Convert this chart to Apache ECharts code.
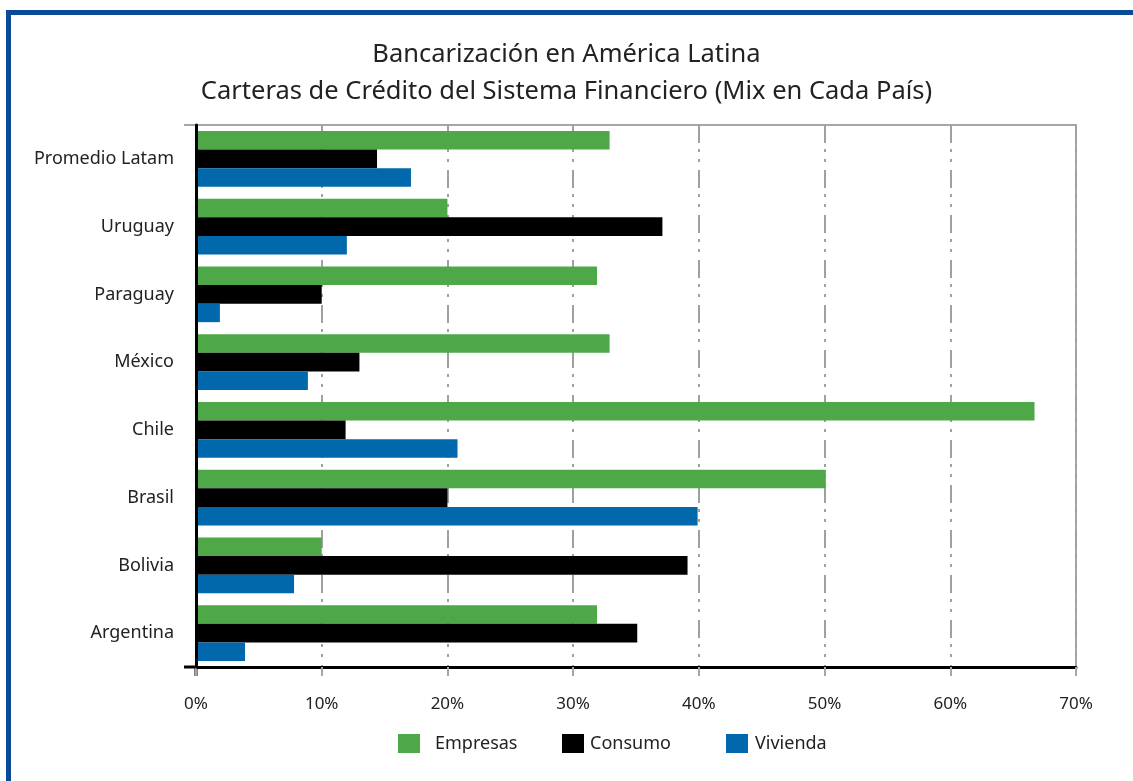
<!DOCTYPE html>
<html lang="es">
<head>
    <meta charset="UTF-8">
    <title>Bancarización en América Latina</title>
    <script type="text/javascript" src="https://cdn.jsdelivr.net/npm/echarts@6/dist/echarts.min.js"></script>
    <style>
        html, body { margin: 0; padding: 0; background: #fff; }
    </style>
</head>
<body>
<div id="main" style="width: 1133px;height:781px;"></div>
<script>
    // categorias (de abajo hacia arriba)
    var paises = ['Argentina', 'Bolivia', 'Brasil', 'Chile', 'México', 'Paraguay', 'Uruguay', 'Promedio Latam'];
    // % de la cartera
    var empresas = [31.9, 10.0, 50.1, 66.7, 32.9, 31.9, 20.0, 32.9];
    var consumo = [35.1, 39.1, 20.0, 11.9, 13.0, 10.0, 37.1, 14.4];
    var vivienda = [3.9, 7.8, 39.9, 20.8, 8.9, 1.9, 12.0, 17.1];
    var ticksX = [0, 10, 20, 30, 40, 50, 60, 70];

    var fuente = 'Noto Sans';
    var colores = {Empresas: '#4ea847', Consumo: '#000000', Vivienda: '#0068ab'};

    function leyenda(nombre, x, extra) {
        return {
            data: [nombre],
            left: x - 5,
            top: 729,
            itemWidth: 22,
            itemHeight: 19,
            icon: 'rect',
            textStyle: {
                fontFamily: fuente,
                fontSize: 18,
                color: '#222',
                padding: [0, 0, 0, extra]
            }
        };
    }

    var option = {
        animation: false,
        title: {
            text: 'Bancarización en América Latina\nCarteras de Crédito del Sistema Financiero (Mix en Cada País)',
            left: 'center',
            top: 31,
            textStyle: {
                fontFamily: fuente,
                fontWeight: 'normal',
                fontSize: 25.5,
                lineHeight: 37,
                color: '#222'
            }
        },
        legend: [
            leyenda('Empresas', 398, 10),
            leyenda('Consumo', 562, 1),
            leyenda('Vivienda', 726, 2)
        ],
        grid: {
            left: 196,
            right: 57,
            top: 125,
            bottom: 114,
            show: true,
            borderColor: '#a6a6a6',
            borderWidth: 2
        },
        xAxis: {
            type: 'value',
            z: 0,
            min: ticksX[0],
            max: ticksX[ticksX.length - 1],
            interval: 10,
            axisLine: {show: true, lineStyle: {color: '#000', width: 3}},
            axisTick: {show: true, length: 9, lineStyle: {color: '#a6a6a6', width: 2}},
            axisLabel: {
                margin: 29,
                fontFamily: fuente,
                fontSize: 17,
                color: '#222',
                formatter: '{value}%'
            },
            splitLine: {
                show: true,
                lineStyle: {color: '#a0a0a0', width: 2, type: [18, 6, 3, 7, 3, 8]}
            }
        },
        yAxis: {
            type: 'category',
            z: 5,
            data: paises,
            axisLine: {show: true, lineStyle: {color: '#000', width: 3}},
            axisTick: {show: false},
            axisLabel: {
                margin: 22,
                fontFamily: fuente,
                fontSize: 18,
                color: '#222'
            }
        },
        series: [
            {name: 'Empresas', type: 'bar', data: empresas, barGap: '0%', barCategoryGap: '18%', itemStyle: {color: colores.Empresas}},
            {name: 'Consumo', type: 'bar', data: consumo, itemStyle: {color: colores.Consumo}},
            {name: 'Vivienda', type: 'bar', data: vivienda, itemStyle: {color: colores.Vivienda}}
        ],
        graphic: [
            // marco azul
            {type: 'rect', shape: {x: 6, y: 10, width: 1127, height: 5}, style: {fill: '#0a4a97'}},
            {type: 'rect', shape: {x: 6, y: 10, width: 5, height: 771}, style: {fill: '#0a4a97'}},
            // prolongaciones de los ejes
            {type: 'line', shape: {x1: 184, y1: 125, x2: 196, y2: 125}, style: {stroke: '#a6a6a6', lineWidth: 2}},
            {type: 'line', shape: {x1: 184, y1: 667, x2: 196, y2: 667}, style: {stroke: '#000', lineWidth: 3}},
            {type: 'line', shape: {x1: 196, y1: 667, x2: 196, y2: 676}, style: {stroke: '#000', lineWidth: 3}}
        ]
    };

    var myChart = echarts.init(document.getElementById('main'));
    myChart.setOption(option);
</script>
</body>
</html>
